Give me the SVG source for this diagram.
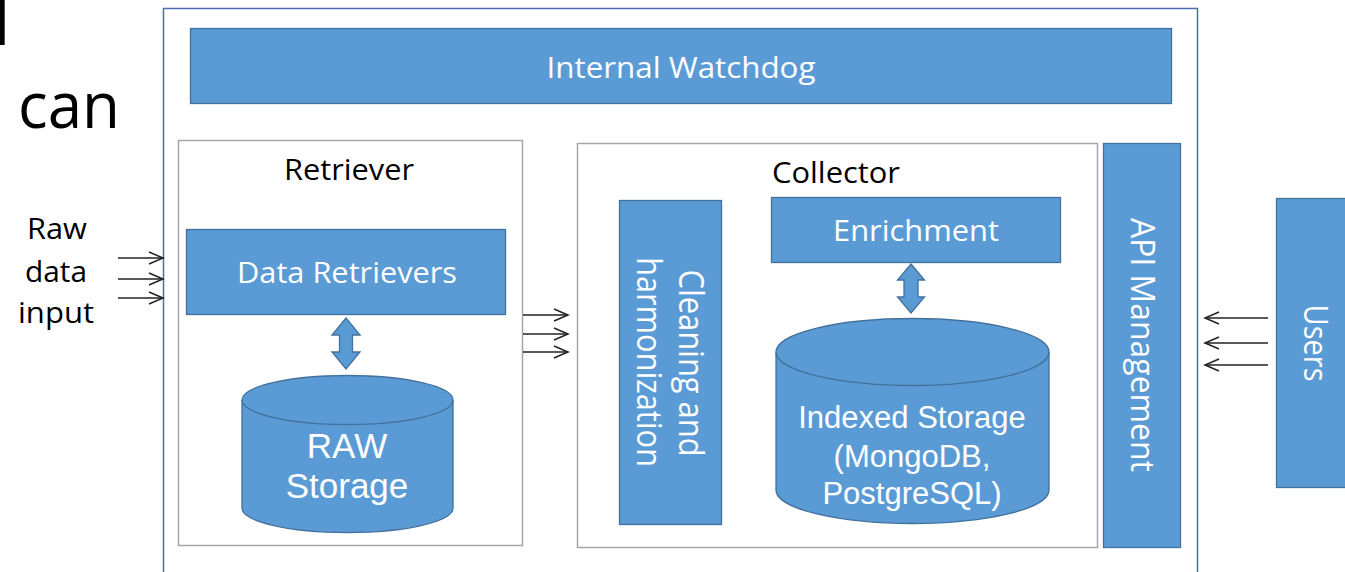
<svg xmlns="http://www.w3.org/2000/svg" width="1345" height="572" viewBox="0 0 1345 572">
<defs>
<style>
.blk{fill:#5b9bd5;stroke:#41719c;stroke-width:1.3}
.grp{fill:#ffffff;stroke:#a6a6a6;stroke-width:1.5}
.wt{fill:#ffffff;font-family:"Open Sans","Liberation Sans",sans-serif;text-anchor:middle}
.wa{fill:#ffffff;font-family:"Liberation Sans",Arial,sans-serif;text-anchor:middle}
.bt{fill:#000000;font-family:"Open Sans","Liberation Sans",sans-serif;text-anchor:middle}
.con{stroke:#222222;stroke-width:1.5;fill:none;marker-end:url(#arr)}
</style>
<marker id="arr" markerUnits="userSpaceOnUse" markerWidth="18" markerHeight="16" refX="15" refY="7" orient="auto">
<path d="M1,1 L15,7 L1,13" fill="none" stroke="#222222" stroke-width="1.5"/>
</marker>
</defs>
<rect width="1345" height="572" fill="#ffffff"/>
<g id="page-text">
<text x="-6" y="45" font-family="Open Sans, Liberation Sans, sans-serif" font-size="64" fill="#000">l</text>
<text x="18" y="128" font-family="Open Sans, Liberation Sans, sans-serif" font-size="64" fill="#000" textLength="102" lengthAdjust="spacingAndGlyphs">can</text>
</g>
<g id="frame">
<rect x="163.5" y="8.5" width="1034" height="600" fill="none" stroke="#4a6eb0" stroke-width="1.5"/>
</g>
<g id="watchdog">
<rect class="blk" x="190.5" y="28.5" width="981" height="75"/>
<text class="wt" x="681" y="78" font-size="30" textLength="269" lengthAdjust="spacingAndGlyphs">Internal Watchdog</text>
</g>
<g id="retriever">
<rect class="grp" x="178.5" y="140.5" width="344" height="405"/>
<text class="bt" x="349" y="180" font-size="30" textLength="130" lengthAdjust="spacingAndGlyphs">Retriever</text>
</g>
<g id="data-retrievers">
<rect class="blk" x="186.5" y="229.5" width="319" height="85"/>
<text class="wt" x="347" y="283" font-size="30" textLength="220" lengthAdjust="spacingAndGlyphs">Data Retrievers</text>
</g>
<g id="raw-storage">
<path class="blk" d="M242,400 A105.5,24.5 0 0 1 453,400 L453,508 A105.5,24.5 0 0 1 242,508 Z"/>
<path d="M242,400 A105.5,24.5 0 0 0 453,400" fill="none" stroke="#41719c" stroke-width="1.3"/>
<text class="wa" x="347" y="458" font-size="35">RAW</text>
<text class="wa" x="347" y="498" font-size="35">Storage</text>
</g>
<g id="collector">
<rect class="grp" x="577.5" y="143.5" width="520" height="404"/>
<text class="bt" x="836" y="183" font-size="30" textLength="128" lengthAdjust="spacingAndGlyphs">Collector</text>
</g>
<g id="cleaning">
<rect class="blk" x="619.5" y="200.5" width="102" height="324"/>
<text class="wt" font-size="34" transform="translate(679,363) rotate(90)" x="0" y="0" textLength="187" lengthAdjust="spacingAndGlyphs">Cleaning and</text>
<text class="wt" font-size="34" transform="translate(637,362) rotate(90)" x="0" y="0" textLength="210" lengthAdjust="spacingAndGlyphs">harmonization</text>
</g>
<g id="enrichment">
<rect class="blk" x="771.5" y="197.5" width="289" height="65"/>
<text class="wt" x="916" y="241" font-size="30" textLength="166" lengthAdjust="spacingAndGlyphs">Enrichment</text>
</g>
<g id="indexed-storage">
<path class="blk" d="M776,352 A136.5,33.5 0 0 1 1049,352 L1049,490 A136.5,33.5 0 0 1 776,490 Z"/>
<path d="M776,352 A136.5,33.5 0 0 0 1049,352" fill="none" stroke="#41719c" stroke-width="1.3"/>
<text class="wa" x="912" y="428" font-size="31">Indexed Storage</text>
<text class="wa" x="912" y="467" font-size="31">(MongoDB,</text>
<text class="wa" x="912" y="504" font-size="31">PostgreSQL)</text>
</g>
<g id="api-management">
<rect class="blk" x="1103.5" y="143.5" width="77" height="404"/>
<text class="wt" font-size="33" transform="translate(1131,345) rotate(90)" x="0" y="0" textLength="254" lengthAdjust="spacingAndGlyphs">API Management</text>
</g>
<g id="users">
<rect class="blk" x="1276.5" y="198.5" width="80" height="289"/>
<text class="wt" font-size="33" transform="translate(1304,343) rotate(90)" x="0" y="0" textLength="77" lengthAdjust="spacingAndGlyphs">Users</text>
</g>
<g id="raw-input-label">
<text class="bt" x="57" y="239" font-size="29" textLength="60" lengthAdjust="spacingAndGlyphs">Raw</text>
<text class="bt" x="56" y="282" font-size="29" textLength="62" lengthAdjust="spacingAndGlyphs">data</text>
<text class="bt" x="56" y="323" font-size="29" textLength="76" lengthAdjust="spacingAndGlyphs">input</text>
</g>
<g id="connectors">
<line class="con" x1="118" y1="258" x2="163" y2="258"/>
<line class="con" x1="118" y1="279" x2="163" y2="279"/>
<line class="con" x1="118" y1="298" x2="163" y2="298"/>
<line class="con" x1="523" y1="315" x2="568" y2="315"/>
<line class="con" x1="523" y1="334" x2="568" y2="334"/>
<line class="con" x1="523" y1="352" x2="568" y2="352"/>
<line class="con" x1="1268" y1="318" x2="1205" y2="318"/>
<line class="con" x1="1268" y1="343" x2="1205" y2="343"/>
<line class="con" x1="1268" y1="365" x2="1205" y2="365"/>
<polygon class="blk" points="346,318 360,335 352.5,335 352.5,352 360,352 346,369 332,352 339.5,352 339.5,335 332,335"/>
<polygon class="blk" points="911,264 924.5,280 918,280 918,297 924.5,297 911,313 897.5,297 904,297 904,280 897.5,280"/>
</g>
</svg>
